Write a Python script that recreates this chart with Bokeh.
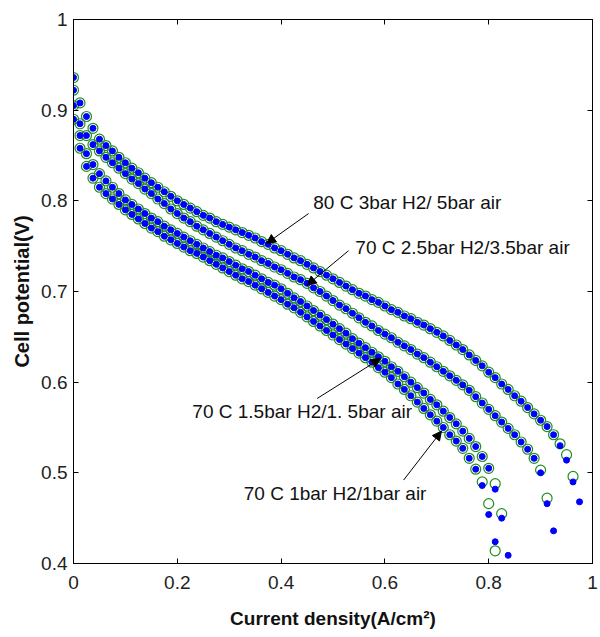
from bokeh.plotting import figure
from bokeh.models import Range1d, FixedTicker, LinearAxis, CustomJSTickFormatter, Label, Arrow, NormalHead
from bokeh.embed import file_html
from bokeh.resources import INLINE

# Current density grid (A/cm^2)
current = [0.0, 0.0125, 0.025, 0.0375, 0.05, 0.0625, 0.075, 0.0875, 0.1, 0.1125,
           0.125, 0.1375, 0.15, 0.1625, 0.175, 0.1875, 0.2, 0.2125, 0.225, 0.2375,
           0.25, 0.2625, 0.275, 0.2875, 0.3, 0.3125, 0.325, 0.3375, 0.35, 0.3625,
           0.375, 0.3875, 0.4, 0.4125, 0.425, 0.4375, 0.45, 0.4625, 0.475, 0.4875,
           0.5, 0.5125, 0.525, 0.5375, 0.55, 0.5625, 0.575, 0.5875, 0.6, 0.6125,
           0.625, 0.6375, 0.65, 0.6625, 0.675, 0.6875, 0.7, 0.7125, 0.725, 0.7375,
           0.75, 0.7625, 0.775, 0.7875, 0.8, 0.8125, 0.825, 0.8375, 0.85, 0.8625,
           0.875, 0.8875, 0.9, 0.9125, 0.925, 0.9375, 0.95, 0.9625, 0.975]

# 80 C 3bar H2 / 5bar air
exp_80c_3bar = [.936, .908, .893, .880, .868, .861, .855, .848, .842, .836,
                .831, .825, .820, .815, .810, .805, .800, .796, .792, .788,
                .784, .781, .777, .774, .771, .768, .765, .762, .759, .755,
                .752, .748, .745, .741, .737, .734, .730, .726, .722, .718,
                .714, .710, .706, .702, .698, .695, .691, .688, .684, .680,
                .677, .673, .670, .666, .663, .659, .655, .651, .646, .641,
                .636, .630, .624, .618, .611, .605, .598, .592, .585, .579,
                .572, .565, .558, .551, .542, .532, .520, .496]
mod_80c_3bar = [.936, .908, .893, .880, .868, .861, .855, .848, .842, .836,
                .831, .825, .820, .815, .810, .805, .800, .796, .792, .788,
                .784, .781, .777, .774, .771, .768, .765, .762, .759, .755,
                .752, .748, .745, .741, .737, .734, .730, .726, .722, .718,
                .714, .710, .706, .702, .698, .695, .691, .688, .684, .680,
                .677, .673, .670, .666, .663, .659, .655, .651, .646, .641,
                .636, .630, .624, .618, .611, .605, .598, .592, .585, .579,
                .572, .565, .558, .551, .542, .530, .514, .490, .468]

# 70 C 2.5bar H2 / 3.5bar air
exp_70c_25bar = [.922, .885, .872, .862, .855, .848, .842, .836, .830, .824,
                 .819, .813, .808, .802, .797, .791, .786, .781, .777, .772,
                 .768, .764, .760, .756, .752, .748, .745, .741, .738, .734,
                 .731, .727, .724, .720, .716, .713, .709, .704, .700, .695,
                 .690, .685, .681, .676, .671, .666, .662, .657, .653, .649,
                 .644, .640, .636, .631, .627, .622, .617, .612, .607, .602,
                 .597, .591, .584, .577, .570, .563, .556, .549, .542, .534,
                 .526, .516, .503, .472]
mod_70c_25bar = [.922, .885, .872, .862, .855, .848, .842, .836, .830, .824,
                 .819, .813, .808, .802, .797, .791, .786, .781, .777, .772,
                 .768, .764, .760, .756, .752, .748, .745, .741, .738, .734,
                 .731, .727, .724, .720, .716, .713, .709, .704, .700, .695,
                 .690, .685, .681, .676, .671, .666, .662, .657, .653, .649,
                 .644, .640, .636, .631, .627, .622, .617, .612, .607, .602,
                 .597, .591, .584, .577, .570, .563, .556, .549, .542, .534,
                 .526, .516, .500, .466, .436]

# 70 C 1.5bar H2 / 1.5bar air
exp_70c_15bar = [.905, .872, .852, .840, .830, .822, .815, .808, .801, .796,
                 .791, .786, .781, .777, .772, .768, .764, .760, .756, .752,
                 .748, .744, .740, .737, .733, .729, .725, .722, .718, .714,
                 .710, .707, .703, .698, .693, .689, .684, .679, .674, .669,
                 .664, .659, .654, .648, .643, .638, .633, .628, .623, .617,
                 .612, .606, .600, .594, .588, .581, .575, .568, .561, .554,
                 .546, .538, .529, .518, .505, .488, .455]
mod_70c_15bar = [.905, .872, .852, .840, .830, .822, .815, .808, .801, .796,
                 .791, .786, .781, .777, .772, .768, .764, .760, .756, .752,
                 .748, .744, .740, .737, .733, .729, .725, .722, .718, .714,
                 .710, .707, .703, .698, .693, .689, .684, .679, .674, .669,
                 .664, .659, .654, .648, .643, .638, .633, .628, .623, .617,
                 .612, .606, .600, .594, .588, .581, .575, .568, .561, .554,
                 .546, .538, .529, .518, .505, .482, .450, .409]

# 70 C 1bar H2 / 1bar air
exp_70c_1bar = [.890, .858, .838, .825, .815, .808, .802, .796, .790, .785,
                .780, .775, .770, .766, .761, .757, .753, .749, .745, .742,
                .738, .734, .730, .726, .722, .718, .714, .711, .707, .703,
                .699, .695, .691, .686, .682, .677, .672, .667, .662, .657,
                .652, .647, .642, .637, .632, .627, .622, .616, .611, .605,
                .598, .592, .585, .578, .571, .564, .557, .550, .542, .535,
                .527, .516, .504, .490, .466, .414]
mod_70c_1bar = [.890, .858, .838, .825, .815, .808, .802, .796, .790, .785,
                .780, .775, .770, .766, .761, .757, .753, .749, .745, .742,
                .738, .734, .730, .726, .722, .718, .714, .711, .707, .703,
                .699, .695, .691, .686, .682, .677, .672, .667, .662, .657,
                .652, .647, .642, .637, .632, .627, .622, .616, .611, .605,
                .598, .592, .585, .578, .571, .564, .557, .550, .542, .535,
                .527, .516, .504, .486, .454, .424]

x_ticks = [0, 0.2, 0.4, 0.6, 0.8, 1]
y_ticks = [0.4, 0.5, 0.6, 0.7, 0.8, 0.9, 1]

label_texts = ["80 C 3bar H2/ 5bar air", "70 C 2.5bar H2/3.5bar air",
               "70 C 1.5bar H2/1. 5bar air", "70 C 1bar H2/1bar air"]
label_x = [0.462, 0.543, 0.229, 0.328]
label_y = [0.798, 0.748, 0.568, 0.477]
arrow_x0 = [0.453, 0.530, 0.4695, 0.636]
arrow_y0 = [0.786, 0.745, 0.582, 0.492]
arrow_x1 = [0.372, 0.450, 0.5915, 0.709]
arrow_y1 = [0.753, 0.707, 0.626, 0.546]

x_title = "Current density(A/cm²)"
y_title = "Cell potential(V)"

GREEN = "#1f8f1f"
BLUE = "#0000ff"
FONT = "Liberation Sans"

p = figure(frame_width=519, frame_height=544, x_range=Range1d(0, 1), y_range=Range1d(0.4, 1),
           output_backend="svg", toolbar_location=None,
           min_border_left=73, min_border_right=8, min_border_top=19, min_border_bottom=74)
p.grid.visible = False
p.outline_line_color = "black"
p.background_fill_color = "white"
p.border_fill_color = "white"

fmt = CustomJSTickFormatter(code="return String(Math.round(tick*10)/10);")

def style_axis(ax, ticks, show_labels):
    ax.ticker = FixedTicker(ticks=ticks)
    ax.major_tick_in = 5
    ax.major_tick_out = 0
    ax.minor_tick_line_color = None
    ax.axis_line_color = "black"
    ax.major_tick_line_color = "black"
    if show_labels:
        ax.formatter = fmt
        ax.major_label_text_font = FONT
        ax.major_label_text_font_size = "19px"
        ax.major_label_text_color = "#222222"
    else:
        ax.major_label_text_color = None
        ax.major_label_text_font_size = "1px"
        ax.major_label_standoff = 0

style_axis(p.xaxis[0], x_ticks, True)
style_axis(p.yaxis[0], y_ticks, True)
p.xaxis[0].major_label_standoff = 12
p.yaxis[0].major_label_standoff = 6

p.xaxis[0].axis_label = x_title
p.xaxis[0].axis_label_text_font = FONT
p.xaxis[0].axis_label_text_font_style = "bold"
p.xaxis[0].axis_label_text_font_size = "19px"
p.xaxis[0].axis_label_standoff = 16
p.xaxis[0].axis_label_text_color = "#111111"

p.yaxis[0].axis_label = y_title
p.yaxis[0].axis_label_text_font = FONT
p.yaxis[0].axis_label_text_font_style = "bold"
p.yaxis[0].axis_label_text_font_size = "20px"
p.yaxis[0].axis_label_standoff = 5
p.yaxis[0].axis_label_text_color = "#111111"

top_ax = LinearAxis()
style_axis(top_ax, x_ticks, False)
p.add_layout(top_ax, "above")
right_ax = LinearAxis()
style_axis(right_ax, y_ticks, False)
p.add_layout(right_ax, "right")

series = [(exp_80c_3bar, mod_80c_3bar), (exp_70c_25bar, mod_70c_25bar),
          (exp_70c_15bar, mod_70c_15bar), (exp_70c_1bar, mod_70c_1bar)]
for exp_y, mod_y in series:
    p.scatter(current[:len(exp_y)], exp_y, marker="circle", size=10,
              fill_color=None, line_color=GREEN, line_width=1.2)
for exp_y, mod_y in series:
    p.scatter(current[:len(mod_y)], mod_y, marker="circle", size=6,
              fill_color=BLUE, line_color=BLUE, line_width=1)

for t, lx, ly in zip(label_texts, label_x, label_y):
    p.add_layout(Label(x=lx, y=ly, text=t, text_font=FONT, text_font_size="19px",
                       text_baseline="middle", text_align="left", text_color="#111111"))

for x0, y0, x1, y1 in zip(arrow_x0, arrow_y0, arrow_x1, arrow_y1):
    p.add_layout(Arrow(end=NormalHead(size=9, fill_color="black", line_color="black"),
                       x_start=x0, y_start=y0, x_end=x1, y_end=y1,
                       line_color="black", line_width=1))

open("out.html", "w").write(file_html(p, INLINE))
